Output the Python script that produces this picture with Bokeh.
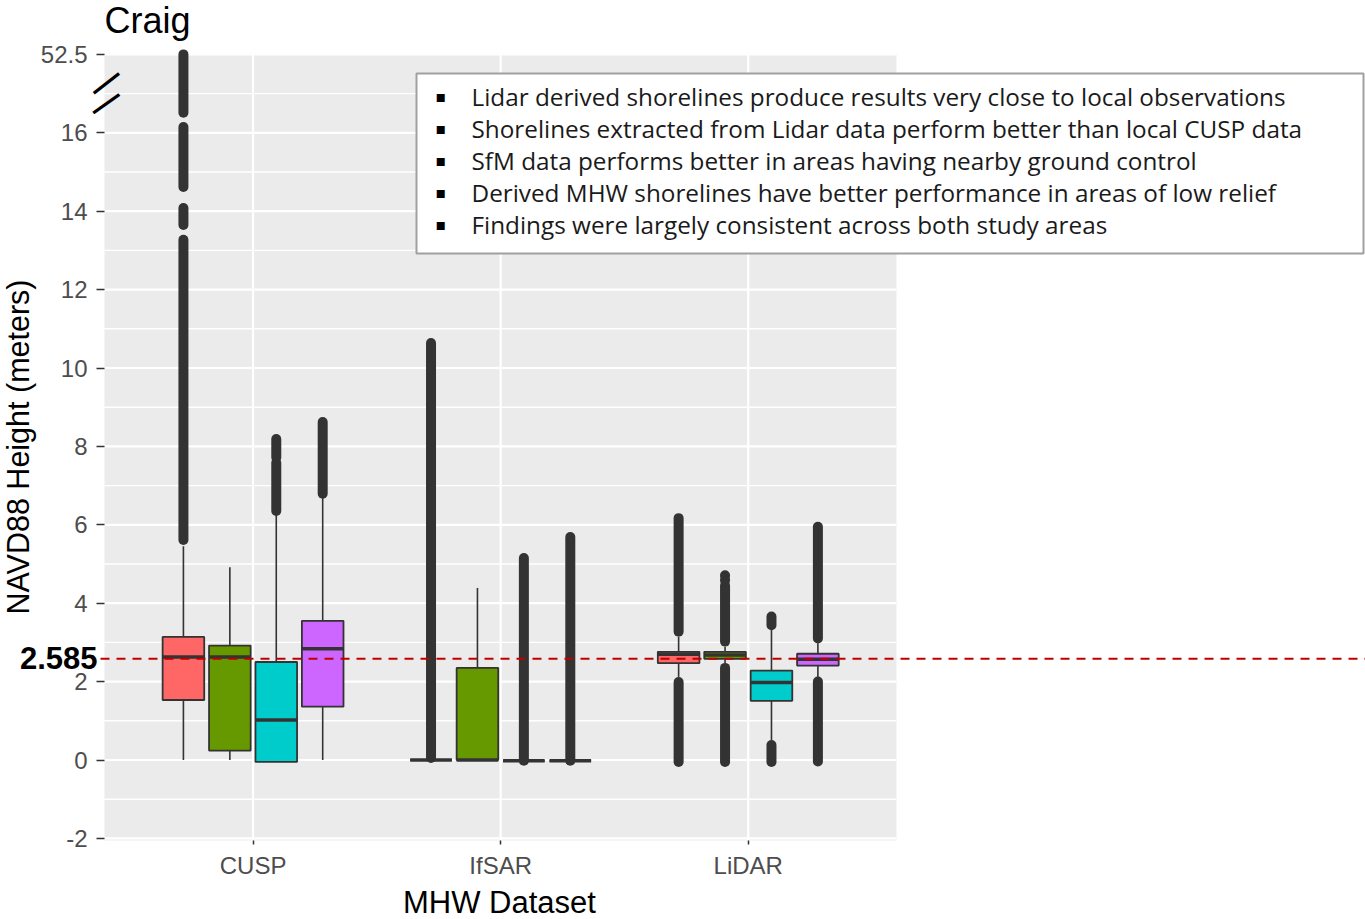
import numpy as np
from bokeh.plotting import figure
from bokeh.models import Range1d, FixedTicker, BoxAnnotation, Label
from bokeh.embed import file_html
from bokeh.resources import INLINE

# ---------------- data ----------------
chart_title = "Craig"
x_title = "MHW Dataset"
y_title = "NAVD88 Height (meters)"
datasets = ["CUSP", "IfSAR", "LiDAR"]
series_colors = ["#FF6666", "#669900", "#00CCCC", "#CC66FF"]

# one entry per box: dataset index and series index
box_dataset = [0, 0, 0, 0, 1, 1, 1, 1, 2, 2, 2, 2]
box_series = [0, 1, 2, 3, 0, 1, 2, 3, 0, 1, 2, 3]
whisker_low = [0.00, 0.00, -0.05, 0.00, 0.00, 0.00, -0.02, -0.02, 2.12, 2.47, 0.51, 2.12]
q1 = [1.53, 0.24, -0.05, 1.36, 0.00, 0.00, -0.02, -0.02, 2.47, 2.58, 1.51, 2.41]
median = [2.63, 2.63, 1.02, 2.84, 0.00, 0.00, -0.02, -0.02, 2.70, 2.68, 1.98, 2.57]
q3 = [3.14, 2.92, 2.50, 3.55, 0.00, 2.35, -0.02, -0.02, 2.76, 2.76, 2.28, 2.71]
whisker_high = [5.45, 4.92, 6.25, 6.70, 0.00, 4.39, -0.02, -0.02, 3.14, 2.89, 3.32, 2.98]

# outliers: runs of densely packed points (box index, lowest, highest)
outlier_box = [0, 0, 0, 0, 2, 2, 3, 4, 6, 7, 8, 8, 9, 9, 9, 9, 10, 10, 11, 11]
outlier_lo = [5.61, 13.65, 14.62, 25.3, 6.35, 7.72, 6.79, 0.05, -0.02, -0.02,
              3.27, -0.05, 3.02, 4.58, 4.70, -0.05, 3.44, -0.05, 3.10, -0.04]
outlier_hi = [13.27, 14.08, 18.7, 52.5, 7.58, 8.19, 8.62, 10.64, 5.15, 5.69,
              6.17, 1.99, 4.45, 4.60, 4.71, 2.35, 3.66, 0.38, 5.95, 2.00]

y_ticks = [-2, 0, 2, 4, 6, 8, 10, 12, 14, 16, 52.5]
y_break_low = 16
y_break_high = 52.5
reference_height = 2.585
notes = [
    "Lidar derived shorelines produce results very close to local observations",
    "Shorelines extracted from Lidar data perform better than local CUSP data",
    "SfM data performs better in areas having nearby ground control",
    "Derived MHW shorelines have better performance in areas of low relief",
    "Findings were largely consistent across both study areas",
]

# ---------------- geometry / style ----------------
W, H = 1365, 919
PL, PR, PT, PB = 104, 896, 53, 840   # grey panel edges in canvas px
PXU_X = 247.6                        # px per category unit
ZERO_PX, PXU_Y = 759.5, 39.2         # canvas y of 0, px per unit
DODGE = 0.1875
BOX_W = 0.168
DARK = "#333333"


def X(px):
    return 0.4 + (px - PL) / PXU_X


def Y(py):
    return (ZERO_PX - py) / PXU_Y


def to_display(v):
    v = np.asarray(v, dtype=float)
    span = 2.0 / (y_break_high - y_break_low)
    return np.where(v <= y_break_low, v, y_break_low + (v - y_break_low) * span)


# the frame fills the whole canvas; axes are pinned to the panel edges
p = figure(width=W, height=H, x_range=Range1d(X(0), X(W)), y_range=Range1d(Y(H), Y(0)),
           output_backend="svg", toolbar_location=None,
           min_border_left=0, min_border_right=0, min_border_top=0, min_border_bottom=0)
p.title.text = ""
p.title.visible = False
p.xgrid.visible = False
p.ygrid.visible = False
p.outline_line_color = None
p.background_fill_color = "white"
p.border_fill_color = "white"

PX0, PX1, PY0, PY1 = X(PL), X(PR), Y(PB), Y(PT)

# grey panel
p.add_layout(BoxAnnotation(left=PX0, right=PX1, bottom=PY0, top=PY1, fill_color="#EBEBEB",
                           fill_alpha=1.0, line_color=None, level="underlay"))

# gridlines inside panel
disp_ticks = [float(t) for t in to_display(y_ticks)]
minor_y = [a + (b - a) / 2 for a, b in zip(disp_ticks[:-1], disp_ticks[1:])]
p.segment(x0=[PX0] * len(minor_y), x1=[PX1] * len(minor_y), y0=minor_y, y1=minor_y,
          line_color="white", line_width=1.4)
p.segment(x0=[PX0] * len(disp_ticks), x1=[PX1] * len(disp_ticks), y0=disp_ticks, y1=disp_ticks,
          line_color="white", line_width=2.2)
cats = [i + 1 for i in range(len(datasets))]
p.segment(x0=cats, x1=cats, y0=[PY0] * 3, y1=[PY1] * 3, line_color="white", line_width=2.2)

# box positions
bx = np.array([box_dataset[i] + 1 + (box_series[i] - 1.5) * DODGE for i in range(len(box_dataset))])
fills = [series_colors[s] for s in box_series]

# outliers (drawn first, like ggplot)
ox = bx[np.array(outlier_box)]
p.segment(x0=ox, x1=ox, y0=to_display(outlier_lo), y1=to_display(outlier_hi),
          line_color=DARK, line_width=10, line_cap="round")
# whiskers
p.segment(x0=bx, x1=bx, y0=to_display(whisker_low), y1=to_display(q1), line_color=DARK, line_width=1.6)
p.segment(x0=bx, x1=bx, y0=to_display(q3), y1=to_display(whisker_high), line_color=DARK, line_width=1.6)
# boxes
p.quad(left=bx - BOX_W / 2, right=bx + BOX_W / 2, bottom=to_display(q1), top=to_display(q3),
       fill_color=fills, line_color=DARK, line_width=1.8)
# medians
p.segment(x0=bx - BOX_W / 2, x1=bx + BOX_W / 2, y0=to_display(median), y1=to_display(median),
          line_color=DARK, line_width=3.5)

# reference line
p.segment(x0=[X(100)], x1=[X(W)], y0=[reference_height], y1=[reference_height],
          line_color="#C00000", line_dash="9 7", line_width=2)

# axes pinned to the panel edges
ax = p.xaxis[0]
ax.fixed_location = PY0
ax.ticker = FixedTicker(ticks=cats)
ax.major_label_overrides = {c: d for c, d in zip(cats, datasets)}
ay = p.yaxis[0]
ay.fixed_location = PX0
ay.ticker = FixedTicker(ticks=disp_ticks)
ay.major_label_overrides = {d: f"{t:g}" for d, t in zip(disp_ticks, y_ticks)}
for a in (ax, ay):
    a.axis_line_color = None
    a.major_tick_line_color = DARK
    a.major_tick_line_width = 1.5
    a.major_tick_in = 0
    a.minor_tick_line_color = None
    a.major_label_text_font = "Liberation Sans"
    a.major_label_text_font_size = "24px"
    a.major_label_text_color = "#4D4D4D"
ax.major_tick_out = 4
ax.major_label_standoff = 7
ay.major_tick_out = 8
ay.major_label_standoff = 9

# titles
p.add_layout(Label(x=X(104), y=Y(20), text=chart_title, text_font="Liberation Sans",
                   text_font_size="36px", text_color="black", text_baseline="alphabetic"))
p.add_layout(Label(x=X(499), y=Y(902), text=x_title, text_font="Liberation Sans",
                   text_font_size="31px", text_color="black", text_align="center",
                   text_baseline="alphabetic"))
p.add_layout(Label(x=X(17), y=Y(446.5), text=y_title, text_font="Liberation Sans",
                   text_font_size="30.5px", text_color="black", text_align="center",
                   text_baseline="alphabetic", angle=np.pi / 2))
p.add_layout(Label(x=X(97), y=Y(657.5), text=f"{reference_height:g}",
                   text_font="Liberation Sans", text_font_style="bold", text_font_size="31px",
                   text_color="black", text_align="right", text_baseline="middle"))

# axis break marks
for cy, ang in ((81.0, 0.66), (101.3, 0.62)):
    p.add_layout(Label(x=X(104.5), y=Y(cy), text="\u2014", text_font="Liberation Sans",
                       text_font_style="bold", text_font_size="32px", text_color="black",
                       text_align="center", text_baseline="middle", angle=ang))

# notes box
p.add_layout(BoxAnnotation(left=X(416), right=X(1363), top=Y(73), bottom=Y(253),
                           fill_color="white", fill_alpha=1.0, line_color="#A0A0A0",
                           line_alpha=1.0, line_width=2))
for i, note in enumerate(notes):
    base = 95.5 + 32 * i
    p.add_layout(Label(x=X(440.5), y=Y(96 + 32 * i), text="\u25AA", text_font="DejaVu Sans",
                       text_font_size="16px", text_color="black", text_align="center",
                       text_baseline="middle"))
    p.add_layout(Label(x=X(471), y=Y(base), text=note, text_font="Open Sans",
                       text_font_size="24.3px", text_color="#1A1A1A", text_baseline="alphabetic"))

open("out.html", "w").write(file_html(p, INLINE))
